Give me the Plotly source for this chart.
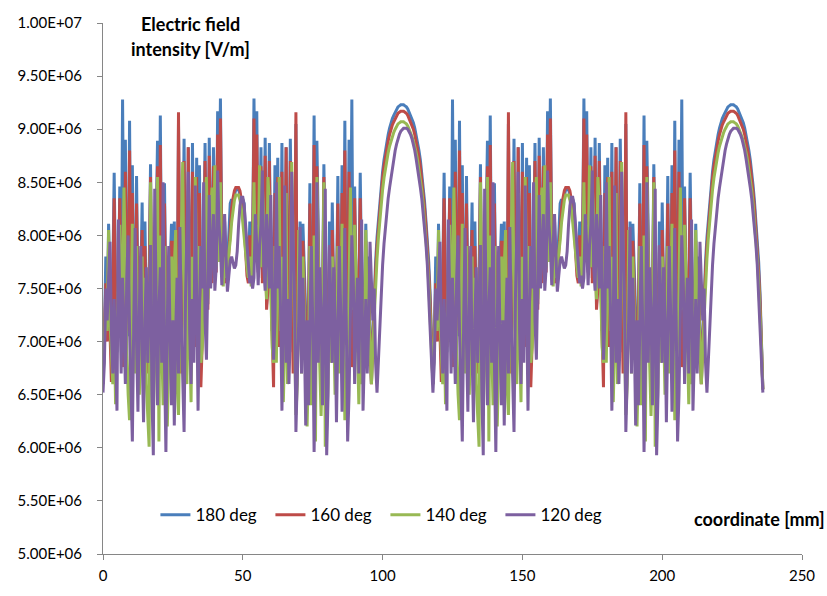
import plotly.graph_objects as go

# Electric field intensity, in units of 1E+06 V/m, sampled every 0.5 mm along the coordinate.
# First period: 0 .. 118 mm (237 samples); second period: 118.5 .. 236 mm (236 samples).

deg180_period1 = [
    6.60, 7.05, 7.80, 7.10, 8.11, 7.40, 6.95, 7.60, 8.59, 7.50,
    6.90, 7.45, 8.46, 7.20, 9.28, 7.60, 8.90, 7.30, 7.05, 9.08,
    7.25, 8.66, 7.35, 6.95, 8.56, 7.40, 6.90, 7.50, 8.31, 7.10,
    8.13, 7.20, 6.85, 7.60, 8.67, 7.30, 6.75, 7.20, 7.90, 8.89,
    7.20, 9.13, 7.40, 6.80, 8.49, 7.30, 6.85, 7.20, 7.70, 8.11,
    7.10, 8.13, 7.30, 6.95, 9.05, 7.50, 6.90, 7.60, 8.91, 7.40,
    7.05, 8.83, 7.30, 7.00, 8.87, 7.45, 7.10, 8.73, 7.35, 8.66,
    7.40, 7.10, 7.70, 8.87, 7.60, 7.35, 8.92, 7.75, 7.60, 8.83,
    7.80, 7.70, 9.17, 8.10, 9.29, 7.90, 7.60, 8.13,
    7.62, 7.70, 7.95, 8.30, 8.34, 8.32, 8.38, 8.43, 8.44, 8.43, 8.38, 8.32, 8.34, 8.30, 7.95, 7.70, 7.62,
    8.13, 7.60, 7.90, 9.29, 8.10, 9.17, 7.70, 7.80,
    8.83, 7.60, 7.75, 8.92, 7.35, 7.60, 8.87, 7.70, 7.10, 7.40,
    8.66, 7.35, 8.73, 7.10, 7.45, 8.87, 7.00, 7.30, 8.83, 7.05,
    7.40, 8.91, 7.60, 6.90, 7.50, 9.05, 6.95, 7.30, 8.13, 7.10,
    8.11, 7.70, 7.20, 6.85, 7.30, 8.49, 6.80, 7.40, 9.13, 7.20,
    8.89, 7.90, 7.20, 6.75, 7.30, 8.67, 7.60, 6.85, 7.20, 8.13,
    7.10, 8.31, 7.50, 6.90, 7.40, 8.56, 6.95, 7.35, 8.66, 7.25,
    9.08, 7.05, 7.30, 8.90, 7.60, 9.28, 7.20, 8.46, 7.45, 6.90,
    7.50, 8.59, 7.60, 6.95, 7.40, 8.11, 7.10, 7.80, 7.05, 6.60,
    7.05, 7.45, 7.75, 7.98, 8.14, 8.32, 8.47, 8.60, 8.71, 8.80,
    8.88, 8.95, 9.01, 9.06, 9.10, 9.13, 9.16, 9.19, 9.21, 9.22,
    9.23, 9.23, 9.23, 9.22, 9.21, 9.19, 9.16, 9.13, 9.10, 9.06,
    9.01, 8.95, 8.88, 8.80, 8.71, 8.60, 8.47, 8.32, 8.14, 7.98,
    7.75, 7.45, 7.05, 6.60,
]
deg180_period2 = [
    7.05, 7.80, 7.10, 8.11, 7.40, 6.95, 7.60, 8.59, 7.50,
    6.90, 7.45, 8.46, 7.20, 9.28, 7.60, 8.90, 7.30, 7.05, 9.08,
    7.25, 8.66, 7.35, 6.95, 8.56, 7.40, 6.90, 7.50, 8.31, 7.10,
    8.13, 7.20, 6.85, 7.60, 8.67, 7.30, 6.75, 7.20, 7.90, 8.89,
    7.20, 9.13, 7.40, 6.80, 8.49, 7.30, 6.85, 7.20, 7.70, 8.11,
    7.10, 8.13, 7.30, 6.95, 9.05, 7.50, 6.90, 7.60, 8.91, 7.40,
    7.05, 8.83, 7.30, 7.00, 8.87, 7.45, 7.10, 8.73, 7.35, 8.66,
    7.40, 7.10, 7.70, 8.87, 7.60, 7.35, 8.92, 7.75, 7.60, 8.83,
    7.80, 7.70, 9.17, 8.10, 9.29, 7.90, 7.60, 8.13,
    7.62, 7.70, 7.95, 8.30, 8.34, 8.32, 8.38, 8.43, 8.44, 8.43, 8.38, 8.32, 8.34, 8.30, 7.95, 7.70, 7.62,
    8.13, 7.60, 7.90, 9.29, 8.10, 9.17, 7.70, 7.80,
    8.83, 7.60, 7.75, 8.92, 7.35, 7.60, 8.87, 7.70, 7.10, 7.40,
    8.66, 7.35, 8.73, 7.10, 7.45, 8.87, 7.00, 7.30, 8.83, 7.05,
    7.40, 8.91, 7.60, 6.90, 7.50, 9.05, 6.95, 7.30, 8.13, 7.10,
    8.11, 7.70, 7.20, 6.85, 7.30, 8.49, 6.80, 7.40, 9.13, 7.20,
    8.89, 7.90, 7.20, 6.75, 7.30, 8.67, 7.60, 6.85, 7.20, 8.13,
    7.10, 8.31, 7.50, 6.90, 7.40, 8.56, 6.95, 7.35, 8.66, 7.25,
    9.08, 7.05, 7.30, 8.90, 7.60, 9.28, 7.20, 8.46, 7.45, 6.90,
    7.50, 8.59, 7.60, 6.95, 7.40, 8.11, 7.10, 7.80, 7.05, 6.60,
    7.05, 7.45, 7.75, 7.98, 8.14, 8.32, 8.47, 8.60, 8.71, 8.80,
    8.88, 8.95, 9.01, 9.06, 9.10, 9.13, 9.16, 9.19, 9.21, 9.22,
    9.23, 9.23, 9.23, 9.22, 9.21, 9.19, 9.16, 9.13, 9.10, 9.06,
    9.01, 8.95, 8.88, 8.80, 8.71, 8.60, 8.47, 8.32, 8.14, 7.98,
    7.75, 7.45, 7.05, 6.55,
]

deg160_period1 = [
    6.60, 7.00, 7.55, 7.00, 7.95, 7.10, 6.62, 7.50, 8.35, 7.40,
    6.95, 7.50, 8.35, 7.30, 6.76, 7.40, 8.60, 7.40, 7.10, 8.80,
    7.30, 8.40, 7.20, 6.90, 8.30, 7.30, 6.85, 7.40, 8.05, 7.00,
    7.90, 7.10, 6.70, 7.50, 8.55, 7.20, 6.60, 7.10, 7.80, 8.65,
    7.10, 8.85, 7.30, 6.70, 8.30, 7.20, 6.70, 7.10, 7.60, 7.95,
    7.00, 7.95, 7.20, 6.80, 9.16, 7.40, 6.70, 7.50, 8.70, 7.30,
    6.95, 8.83, 7.20, 6.85, 8.60, 7.30, 6.95, 8.55, 7.20, 8.40,
    6.57, 7.00, 7.60, 8.70, 7.50, 7.30, 8.75, 7.70, 7.55, 8.65,
    7.75, 7.65, 8.95, 8.00, 9.10, 7.85, 7.55, 8.00,
    7.55, 7.62, 7.85, 8.10, 8.25, 8.35, 8.42, 8.45, 8.45, 8.45, 8.42, 8.35, 8.25, 8.10, 7.85, 7.62, 7.55,
    8.00, 7.55, 7.85, 9.10, 8.00, 8.95, 7.65, 7.75,
    8.65, 7.55, 7.70, 8.75, 7.30, 7.50, 8.70, 7.60, 7.00, 6.57,
    8.40, 7.20, 8.55, 6.95, 7.30, 8.60, 6.85, 7.20, 8.83, 6.95,
    7.30, 8.70, 7.50, 6.70, 7.40, 9.16, 6.80, 7.20, 7.95, 7.00,
    7.95, 7.60, 7.10, 6.70, 7.20, 8.30, 6.70, 7.30, 8.85, 7.10,
    8.65, 7.80, 7.10, 6.60, 7.20, 8.55, 7.50, 6.70, 7.10, 7.90,
    7.00, 8.05, 7.40, 6.85, 7.30, 8.30, 6.90, 7.20, 8.40, 7.30,
    8.80, 7.10, 7.40, 8.60, 7.40, 6.76, 7.30, 8.35, 7.50, 6.95,
    7.40, 8.35, 7.50, 6.62, 7.10, 7.95, 7.00, 7.55, 7.00, 6.60,
    7.00, 7.38, 7.66, 7.90, 8.08, 8.26, 8.41, 8.54, 8.65, 8.74,
    8.82, 8.89, 8.95, 9.00, 9.04, 9.07, 9.10, 9.13, 9.15, 9.16,
    9.17, 9.17, 9.17, 9.16, 9.15, 9.13, 9.10, 9.07, 9.04, 9.00,
    8.95, 8.89, 8.82, 8.74, 8.65, 8.54, 8.41, 8.26, 8.08, 7.90,
    7.66, 7.38, 7.00, 6.60,
]
deg160_period2 = [
    7.00, 7.55, 7.00, 7.95, 7.10, 6.62, 7.50, 8.35, 7.40,
    6.95, 7.50, 8.35, 7.30, 6.76, 7.40, 8.60, 7.40, 7.10, 8.80,
    7.30, 8.40, 7.20, 6.90, 8.30, 7.30, 6.85, 7.40, 8.05, 7.00,
    7.90, 7.10, 6.70, 7.50, 8.55, 7.20, 6.60, 7.10, 7.80, 8.65,
    7.10, 8.85, 7.30, 6.70, 8.30, 7.20, 6.70, 7.10, 7.60, 7.95,
    7.00, 7.95, 7.20, 6.80, 9.16, 7.40, 6.70, 7.50, 8.70, 7.30,
    6.95, 8.83, 7.20, 6.85, 8.60, 7.30, 6.95, 8.55, 7.20, 8.40,
    6.57, 7.00, 7.60, 8.70, 7.50, 7.30, 8.75, 7.70, 7.55, 8.65,
    7.75, 7.65, 8.95, 8.00, 9.10, 7.85, 7.55, 8.00,
    7.55, 7.62, 7.85, 8.10, 8.25, 8.35, 8.42, 8.45, 8.45, 8.45, 8.42, 8.35, 8.25, 8.10, 7.85, 7.62, 7.55,
    8.00, 7.55, 7.85, 9.10, 8.00, 8.95, 7.65, 7.75,
    8.65, 7.55, 7.70, 8.75, 7.30, 7.50, 8.70, 7.60, 7.00, 6.57,
    8.40, 7.20, 8.55, 6.95, 7.30, 8.60, 6.85, 7.20, 8.83, 6.95,
    7.30, 8.70, 7.50, 6.70, 7.40, 9.16, 6.80, 7.20, 7.95, 7.00,
    7.95, 7.60, 7.10, 6.70, 7.20, 8.30, 6.70, 7.30, 8.85, 7.10,
    8.65, 7.80, 7.10, 6.60, 7.20, 8.55, 7.50, 6.70, 7.10, 7.90,
    7.00, 8.05, 7.40, 6.85, 7.30, 8.30, 6.90, 7.20, 8.40, 7.30,
    8.80, 7.10, 7.40, 8.60, 7.40, 6.76, 7.30, 8.35, 7.50, 6.95,
    7.40, 8.35, 7.50, 6.62, 7.10, 7.95, 7.00, 7.55, 7.00, 6.60,
    7.00, 7.38, 7.66, 7.90, 8.08, 8.26, 8.41, 8.54, 8.65, 8.74,
    8.82, 8.89, 8.95, 9.00, 9.04, 9.07, 9.10, 9.13, 9.15, 9.16,
    9.17, 9.17, 9.17, 9.16, 9.15, 9.13, 9.10, 9.07, 9.04, 9.00,
    8.95, 8.89, 8.82, 8.74, 8.65, 8.54, 8.41, 8.26, 8.08, 7.90,
    7.66, 7.38, 7.00, 6.55,
]

deg140_period1 = [
    6.60, 7.00, 7.40, 7.10, 8.05, 7.20, 6.80, 6.60, 7.20, 6.41,
    7.00, 7.60, 8.10, 7.60, 7.30, 8.45, 7.50, 6.90, 6.50, 6.26,
    7.20, 8.11, 7.20, 6.70, 7.90, 6.90, 6.50, 7.10, 7.80, 6.80,
    7.60, 6.60, 6.20, 6.01, 8.50, 6.90, 6.30, 6.80, 7.60, 8.55,
    6.06, 8.00, 7.00, 6.40, 7.90, 6.80, 6.20, 6.80, 7.30, 7.80,
    6.70, 7.70, 8.05, 6.60, 6.31, 7.30, 8.00, 8.69, 7.40, 6.90,
    6.60, 8.40, 7.00, 6.43, 7.80, 7.10, 8.55, 7.60, 6.80, 7.90,
    6.80, 6.95, 7.50, 8.30, 8.55, 7.40, 7.65, 8.20, 8.45, 7.70,
    8.66, 7.70, 8.10, 7.75, 8.50, 7.70, 7.52, 7.80,
    7.60, 7.70, 7.80, 7.95, 8.12, 8.25, 8.33, 8.38, 8.38, 8.38, 8.33, 8.25, 8.12, 7.95, 7.80, 7.70, 7.60,
    7.80, 7.52, 7.70, 8.50, 7.75, 8.10, 7.70, 8.66,
    7.70, 8.45, 8.20, 7.65, 7.40, 8.55, 8.30, 7.50, 6.95, 6.80,
    7.90, 6.80, 7.60, 8.55, 7.10, 7.80, 6.43, 7.00, 8.40, 6.60,
    6.90, 7.40, 8.69, 8.00, 7.30, 6.31, 6.60, 8.05, 7.70, 6.70,
    7.80, 7.30, 6.80, 6.20, 6.80, 7.90, 6.40, 7.00, 8.00, 6.06,
    8.55, 7.60, 6.80, 6.30, 6.90, 8.50, 6.01, 6.20, 6.60, 7.60,
    6.80, 7.80, 7.10, 6.50, 6.90, 7.90, 6.70, 7.20, 8.11, 7.20,
    6.26, 6.50, 6.90, 7.50, 8.45, 7.30, 7.60, 8.10, 7.60, 7.00,
    6.41, 7.20, 6.60, 6.80, 7.20, 8.05, 7.10, 7.40, 7.00, 6.60,
    6.95, 7.28, 7.55, 7.78, 7.98, 8.15, 8.30, 8.43, 8.54, 8.63,
    8.71, 8.78, 8.84, 8.89, 8.93, 8.97, 9.00, 9.03, 9.05, 9.06,
    9.07, 9.07, 9.07, 9.06, 9.05, 9.03, 9.00, 8.97, 8.93, 8.89,
    8.84, 8.78, 8.71, 8.63, 8.54, 8.43, 8.30, 8.15, 7.98, 7.78,
    7.55, 7.28, 6.95, 6.60,
]
deg140_period2 = [
    7.00, 7.40, 7.10, 8.05, 7.20, 6.80, 6.60, 7.20, 6.41,
    7.00, 7.60, 8.10, 7.60, 7.30, 8.45, 7.50, 6.90, 6.50, 6.26,
    7.20, 8.11, 7.20, 6.70, 7.90, 6.90, 6.50, 7.10, 7.80, 6.80,
    7.60, 6.60, 6.20, 6.01, 8.50, 6.90, 6.30, 6.80, 7.60, 8.55,
    6.06, 8.00, 7.00, 6.40, 7.90, 6.80, 6.20, 6.80, 7.30, 7.80,
    6.70, 7.70, 8.05, 6.60, 6.31, 7.30, 8.00, 8.69, 7.40, 6.90,
    6.60, 8.40, 7.00, 6.43, 7.80, 7.10, 8.55, 7.60, 6.80, 7.90,
    6.80, 6.95, 7.50, 8.30, 8.55, 7.40, 7.65, 8.20, 8.45, 7.70,
    8.66, 7.70, 8.10, 7.75, 8.50, 7.70, 7.52, 7.80,
    7.60, 7.70, 7.80, 7.95, 8.12, 8.25, 8.33, 8.38, 8.38, 8.38, 8.33, 8.25, 8.12, 7.95, 7.80, 7.70, 7.60,
    7.80, 7.52, 7.70, 8.50, 7.75, 8.10, 7.70, 8.66,
    7.70, 8.45, 8.20, 7.65, 7.40, 8.55, 8.30, 7.50, 6.95, 6.80,
    7.90, 6.80, 7.60, 8.55, 7.10, 7.80, 6.43, 7.00, 8.40, 6.60,
    6.90, 7.40, 8.69, 8.00, 7.30, 6.31, 6.60, 8.05, 7.70, 6.70,
    7.80, 7.30, 6.80, 6.20, 6.80, 7.90, 6.40, 7.00, 8.00, 6.06,
    8.55, 7.60, 6.80, 6.30, 6.90, 8.50, 6.01, 6.20, 6.60, 7.60,
    6.80, 7.80, 7.10, 6.50, 6.90, 7.90, 6.70, 7.20, 8.11, 7.20,
    6.26, 6.50, 6.90, 7.50, 8.45, 7.30, 7.60, 8.10, 7.60, 7.00,
    6.41, 7.20, 6.60, 6.80, 7.20, 8.05, 7.10, 7.40, 7.00, 6.60,
    6.95, 7.28, 7.55, 7.78, 7.98, 8.15, 8.30, 8.43, 8.54, 8.63,
    8.71, 8.78, 8.84, 8.89, 8.93, 8.97, 9.00, 9.03, 9.05, 9.06,
    9.07, 9.07, 9.07, 9.06, 9.05, 9.03, 9.00, 8.97, 8.93, 8.89,
    8.84, 8.78, 8.71, 8.63, 8.54, 8.43, 8.30, 8.15, 7.98, 7.78,
    7.55, 7.28, 6.95, 6.55,
]

deg120_period1 = [
    6.52, 6.80, 7.50, 7.20, 7.60, 7.94, 7.10, 6.70, 7.40, 6.90,
    6.35, 8.15, 7.30, 6.70, 7.60, 7.20, 6.60, 7.60, 8.00, 7.10,
    6.50, 6.06, 7.20, 8.07, 7.00, 6.34, 7.30, 7.90, 6.90, 6.24,
    7.20, 7.70, 6.80, 7.40, 7.91, 6.50, 5.93, 8.44, 7.20, 6.40,
    7.30, 7.70, 6.80, 8.50, 6.80, 5.96, 7.20, 7.90, 7.00, 6.40,
    7.20, 6.21, 7.10, 7.60, 6.70, 8.08, 7.20, 6.60, 6.15, 7.40,
    8.10, 8.60, 7.10, 6.60, 7.40, 6.80, 8.47, 7.20, 6.35, 7.30,
    7.90, 7.50, 8.50, 7.20, 6.83, 7.60, 8.38, 7.50, 7.90, 8.20,
    7.48, 7.70, 8.61, 8.10, 7.90, 7.53, 7.90, 8.20,
    7.80, 7.47, 7.62, 7.76, 7.80, 7.74, 7.69, 7.72, 7.85, 8.10, 8.28,
    8.36, 8.36, 8.28, 8.10, 7.85, 7.65, 7.55, 7.62, 7.50, 7.60,
    8.20, 7.90, 7.53, 7.90, 8.10, 8.61, 7.70, 7.48,
    8.20, 7.90, 7.50, 8.38, 7.60, 6.83, 7.20, 8.50, 7.50, 7.90,
    7.30, 6.35, 7.20, 8.47, 6.80, 7.40, 6.60, 7.10, 8.60, 8.10,
    7.40, 6.15, 6.60, 7.20, 8.08, 6.70, 7.60, 7.10, 6.21, 7.20,
    6.40, 7.00, 7.90, 7.20, 5.96, 6.80, 8.50, 6.80, 7.70, 7.30,
    6.40, 7.20, 8.44, 5.93, 6.50, 7.91, 7.40, 6.80, 7.70, 7.20,
    6.24, 6.90, 7.90, 7.30, 6.34, 7.00, 8.07, 7.20, 6.06, 6.50,
    7.10, 8.00, 7.60, 6.60, 7.20, 7.60, 6.70, 7.30, 8.15, 6.35,
    6.90, 7.40, 6.70, 7.10, 7.94, 7.60, 7.20, 7.50, 6.80, 6.52,
    6.85, 7.15, 7.45, 7.72, 7.92, 8.08, 8.22, 8.35, 8.45, 8.55,
    8.64, 8.72, 8.80, 8.86, 8.91, 8.95, 8.98, 9.00, 9.01, 9.01,
    9.01, 9.00, 8.98, 8.95, 8.91, 8.86, 8.80, 8.72, 8.64, 8.55,
    8.45, 8.35, 8.22, 8.08, 7.92, 7.72, 7.45, 7.15, 6.85, 6.52,
]
deg120_period2 = [
    6.80, 7.50, 7.20, 7.60, 7.94, 7.10, 6.70, 7.40, 6.90,
    6.35, 8.15, 7.30, 6.70, 7.60, 7.20, 6.60, 7.60, 8.00, 7.10,
    6.50, 6.06, 7.20, 8.07, 7.00, 6.34, 7.30, 7.90, 6.90, 6.24,
    7.20, 7.70, 6.80, 7.40, 7.91, 6.50, 5.93, 8.44, 7.20, 6.40,
    7.30, 7.70, 6.80, 8.50, 6.80, 5.96, 7.20, 7.90, 7.00, 6.40,
    7.20, 6.21, 7.10, 7.60, 6.70, 8.08, 7.20, 6.60, 6.15, 7.40,
    8.10, 8.60, 7.10, 6.60, 7.40, 6.80, 8.47, 7.20, 6.35, 7.30,
    7.90, 7.50, 8.50, 7.20, 6.83, 7.60, 8.38, 7.50, 7.90, 8.20,
    7.48, 7.70, 8.61, 8.10, 7.90, 7.53, 7.90, 8.20,
    7.80, 7.47, 7.62, 7.76, 7.80, 7.74, 7.69, 7.72, 7.85, 8.10, 8.28,
    8.36, 8.36, 8.28, 8.10, 7.85, 7.65, 7.55, 7.62, 7.50, 7.60,
    8.20, 7.90, 7.53, 7.90, 8.10, 8.61, 7.70, 7.48,
    8.20, 7.90, 7.50, 8.38, 7.60, 6.83, 7.20, 8.50, 7.50, 7.90,
    7.30, 6.35, 7.20, 8.47, 6.80, 7.40, 6.60, 7.10, 8.60, 8.10,
    7.40, 6.15, 6.60, 7.20, 8.08, 6.70, 7.60, 7.10, 6.21, 7.20,
    6.40, 7.00, 7.90, 7.20, 5.96, 6.80, 8.50, 6.80, 7.70, 7.30,
    6.40, 7.20, 8.44, 5.93, 6.50, 7.91, 7.40, 6.80, 7.70, 7.20,
    6.24, 6.90, 7.90, 7.30, 6.34, 7.00, 8.07, 7.20, 6.06, 6.50,
    7.10, 8.00, 7.60, 6.60, 7.20, 7.60, 6.70, 7.30, 8.15, 6.35,
    6.90, 7.40, 6.70, 7.10, 7.94, 7.60, 7.20, 7.50, 6.80, 6.52,
    6.85, 7.15, 7.45, 7.72, 7.92, 8.08, 8.22, 8.35, 8.45, 8.55,
    8.64, 8.72, 8.80, 8.86, 8.91, 8.95, 8.98, 9.00, 9.01, 9.01,
    9.01, 9.00, 8.98, 8.95, 8.91, 8.86, 8.80, 8.72, 8.64, 8.55,
    8.45, 8.35, 8.22, 8.08, 7.92, 7.72, 7.45, 7.15, 6.85, 6.52,
]

series_names = ["180 deg", "160 deg", "140 deg", "120 deg"]
series_values = [
    deg180_period1 + deg180_period2,
    deg160_period1 + deg160_period2,
    deg140_period1 + deg140_period2,
    deg120_period1 + deg120_period2,
]
series_colors = ["#4A7EBB", "#BE4B48", "#98B954", "#7D60A0"]
sample_step_mm = 0.5

y_tick_values = [5.0, 5.5, 6.0, 6.5, 7.0, 7.5, 8.0, 8.5, 9.0, 9.5, 10.0]
y_tick_labels = ["5.00E+06", "5.50E+06", "6.00E+06", "6.50E+06", "7.00E+06", "7.50E+06",
                 "8.00E+06", "8.50E+06", "9.00E+06", "9.50E+06", "1.00E+07"]
x_tick_values = [0, 50, 100, 150, 200, 250]

FONT = "Lato, 'Liberation Sans', Arial, sans-serif"

fig = go.Figure()
for name, vals, color in zip(series_names, series_values, series_colors):
    coord = [i * sample_step_mm for i in range(len(vals))]
    fig.add_trace(go.Scatter(
        x=coord, y=vals, mode="lines", name=name,
        line=dict(color=color, width=3),
    ))

axis_common = dict(
    showline=True, linecolor="#868686", linewidth=1,
    ticks="outside", ticklen=5, tickcolor="#868686",
    showgrid=False, zeroline=False,
    tickfont=dict(family=FONT, size=15, color="#000000"),
)

fig.update_layout(
    width=827, height=596,
    margin=dict(l=103, r=19, t=23, b=38),
    paper_bgcolor="white", plot_bgcolor="white",
    font=dict(family=FONT, color="#000000"),
    xaxis=dict(range=[0, 250], tickvals=x_tick_values, ticklabelstandoff=3, **axis_common),
    yaxis=dict(range=[5.0, 10.0], tickvals=y_tick_values, ticktext=y_tick_labels,
               ticklabelstandoff=12, **axis_common),
    showlegend=True,
    legend=dict(
        orientation="h", x=0.075, y=0.073, xanchor="left", yanchor="middle",
        font=dict(family=FONT, size=17, color="#000000"),
        bgcolor="rgba(0,0,0,0)", entrywidth=70, entrywidthmode="pixels",
        itemwidth=30,
    ),
    annotations=[
        dict(text="<b>Electric field</b>", xref="paper", yref="paper",
             x=0.1248, y=0.998, xanchor="center", yanchor="middle", showarrow=False,
             font=dict(family=FONT, size=18, color="#000000")),
        dict(text="<b>intensity [V/m]</b>", xref="paper", yref="paper",
             x=0.1248, y=0.951, xanchor="center", yanchor="middle", showarrow=False,
             font=dict(family=FONT, size=18, color="#000000")),
        dict(text="<b>coordinate [mm]</b>", xref="paper", yref="paper",
             x=1.036, y=0.0654, xanchor="right", yanchor="middle", showarrow=False,
             font=dict(family=FONT, size=18, color="#000000")),
    ],
)

fig.write_html("out.html")
